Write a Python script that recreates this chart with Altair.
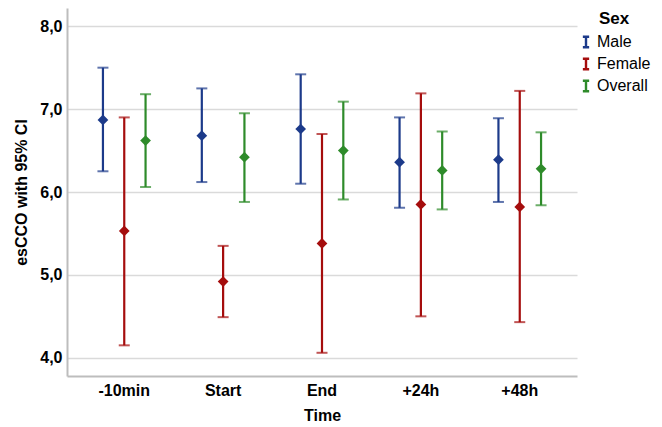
import altair as alt
import pandas as pd

times = ["-10min", "Start", "End", "+24h", "+48h"]
groups = ["Male", "Female", "Overall"]
colors = ["#1c3a8a", "#a50d0d", "#2e8b2a"]

male_mean = [6.87, 6.68, 6.76, 6.36, 6.39]
male_low = [6.25, 6.12, 6.10, 5.81, 5.88]
male_high = [7.50, 7.25, 7.42, 6.90, 6.89]

female_mean = [5.53, 4.92, 5.38, 5.85, 5.82]
female_low = [4.15, 4.49, 4.06, 4.50, 4.43]
female_high = [6.90, 5.35, 6.70, 7.19, 7.22]

overall_mean = [6.62, 6.42, 6.50, 6.26, 6.28]
overall_low = [6.06, 5.88, 5.91, 5.79, 5.84]
overall_high = [7.18, 6.95, 7.09, 6.73, 6.72]

rows = []
for g, m, lo, hi in [
    ("Male", male_mean, male_low, male_high),
    ("Female", female_mean, female_low, female_high),
    ("Overall", overall_mean, overall_low, overall_high),
]:
    for t, mv, lv, hv in zip(times, m, lo, hi):
        rows.append({"Time": t, "Sex": g, "mean": mv, "low": lv, "high": hv})
df = pd.DataFrame(rows)

FONT = "Liberation Sans"

x_enc = alt.X(
    "Time:N",
    sort=times,
    scale=alt.Scale(paddingInner=0, paddingOuter=0.079),
    axis=alt.Axis(
        title="Time",
        labelAngle=0,
        labelFontSize=16,
        labelFontWeight="bold",
        labelColor="black",
        labelFont=FONT,
        labelPadding=6,
        titleFontSize=16,
        titleFontWeight="bold",
        titleFont=FONT,
        titleColor="black",
        titlePadding=9,
        ticks=False,
        grid=False,
        domainColor="#bdbdbd",
        domainWidth=2,
    ),
)
xoff = alt.XOffset("Sex:N", sort=groups, scale=alt.Scale(paddingInner=0, paddingOuter=0.82))
color_scale = alt.Scale(domain=groups, range=colors)

y_scale = alt.Scale(domain=[3.78, 8.22], nice=False, zero=False)
y_axis = alt.Axis(
    title="esCCO with 95% CI",
    values=[4, 5, 6, 7, 8],
    labelExpr="replace(format(datum.value, '.1f'), '.', ',')",
    labelFontSize=16,
    labelFontWeight="bold",
    labelColor="black",
    labelFont=FONT,
    labelPadding=5,
    titleFontSize=16,
    titleFontWeight="bold",
    titleFont=FONT,
    titleColor="black",
    titlePadding=10,
    ticks=False,
    gridColor="#dadada",
    gridWidth=1.5,
    domainColor="#bdbdbd",
    domainWidth=2,
)

base = alt.Chart(df)

rules = base.mark_rule(strokeWidth=2.2).encode(
    x=x_enc,
    xOffset=xoff,
    y=alt.Y("low:Q", scale=y_scale, axis=y_axis),
    y2="high:Q",
    color=alt.Color(
        "Sex:N",
        sort=groups,
        scale=color_scale,
        legend=alt.Legend(
            title="Sex",
            orient="none",
            legendX=511,
            legendY=3,
            titleAnchor="middle",
            titleFontSize=17,
            titleFontWeight="bold",
            titleFont=FONT,
            titleColor="black",
            titlePadding=6,
            labelFontSize=16,
            labelFont=FONT,
            labelColor="black",
            labelOffset=3,
            symbolType="M-0.6,-1H0.6M0,-1V1M-0.6,1H0.6",
            symbolSize=110,
            symbolStrokeWidth=2.4,
            rowPadding=0,
        ),
    ),
)

caps_low = base.mark_tick(thickness=2, size=11).encode(
    x=x_enc,
    xOffset=xoff,
    y=alt.Y("low:Q", scale=y_scale),
    color=alt.Color("Sex:N", sort=groups, scale=color_scale, legend=None),
)
caps_high = base.mark_tick(thickness=2, size=11).encode(
    x=x_enc,
    xOffset=xoff,
    y=alt.Y("high:Q", scale=y_scale),
    color=alt.Color("Sex:N", sort=groups, scale=color_scale, legend=None),
)
points = base.mark_point(shape="diamond", filled=True, size=115, opacity=1).encode(
    x=x_enc,
    xOffset=xoff,
    y=alt.Y("mean:Q", scale=y_scale),
    color=alt.Color("Sex:N", sort=groups, scale=color_scale, legend=None),
)

chart = (
    alt.layer(rules, caps_low, caps_high, points)
    .properties(
        width=510,
        height=368,
        autosize=alt.AutoSizeParams(type="none"),
        padding={"left": 67, "top": 8, "right": 85, "bottom": 51},
        view=alt.ViewBackground(stroke="transparent", strokeWidth=0),
    )
    .configure(background="white")
)

chart.save("out.html", embed_options={"renderer": "svg", "actions": False})
